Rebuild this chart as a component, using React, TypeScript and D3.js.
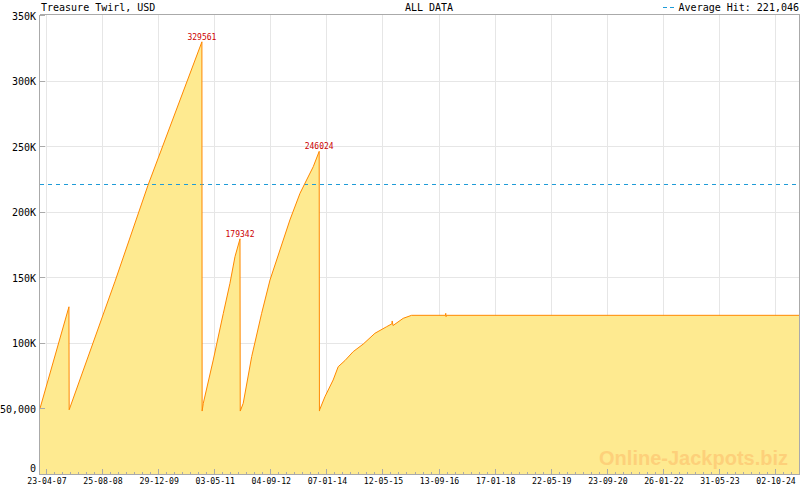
import React from "react";
import * as d3 from "d3";

const title = "Treasure Twirl, USD";
const subtitle = "ALL DATA";
const averageHit = 221046;
const averageLabel = "Average Hit: 221,046";
const watermark = "Online-Jackpots.biz";

const xDomain = ["2007-03-02", "2025-05-08"];
const yDomain = [0, 350000];

const dates = [
  "2007-03-02", "2007-11-10", "2007-11-12", "2008-12-17", "2009-09-30", "2011-01-15",
  "2011-01-17", "2011-01-27", "2011-04-24", "2011-07-21", "2011-09-17", "2011-10-31", "2011-12-14",
  "2011-12-16", "2012-01-11", "2012-03-25", "2012-06-20", "2012-09-01", "2012-11-27", "2013-02-22",
  "2013-05-21", "2013-07-18", "2013-09-14", "2013-11-05",
  "2013-11-07", "2013-11-09", "2013-12-25", "2014-03-07", "2014-04-20", "2014-06-18", "2014-08-29",
  "2014-11-25", "2015-03-07", "2015-06-17", "2015-08-02", "2015-08-05", "2015-08-12", "2015-11-09",
  "2016-01-21", "2016-11-12", "2016-11-15", "2016-11-18", "2016-11-21", "2025-05-08",
];
const values = [
  50000, 127500, 49000, 147000, 220000, 329561,
  48000, 53900, 86900, 122500, 145400, 165700, 179342,
  48000, 53900, 89500, 122500, 147900, 170800, 193700,
  214000, 224200, 234300, 246024,
  48000, 49000, 58900, 71700, 81800, 86500, 93300,
  99100, 107300, 112300, 114500, 116700, 113200, 118700,
  121000, 121000, 122500, 120000, 121000, 121000,
];
const peakValues = [329561, 179342, 246024];

const xTickLabels = [
  "23-04-07", "25-08-08", "29-12-09", "03-05-11", "04-09-12", "07-01-14", "12-05-15",
  "13-09-16", "17-01-18", "22-05-19", "23-09-20", "26-01-22", "31-05-23", "02-10-24",
];
const yTickValues = [0, 50000, 100000, 150000, 200000, 250000, 300000, 350000];
const yTickLabels = ["0", "50,000", "100K", "150K", "200K", "250K", "300K", "350K"];

const MONO = "'DejaVu Sans Mono', monospace";

export default function App() {
  const W = 800;
  const H = 490;
  const left = 40;
  const right = 800;
  const top = 15;
  const bottom = 474;

  const parse = d3.timeParse("%Y-%m-%d");
  const parseTick = d3.timeParse("%d-%m-%y");
  const x = d3.scaleTime().domain(xDomain.map((d) => parse(d) as Date)).range([left, right]);
  const y = d3.scaleLinear().domain(yDomain).range([bottom, top]);

  const data = dates.map((d, i) => ({ date: parse(d) as Date, value: values[i] }));

  const area = d3
    .area<{ date: Date; value: number }>()
    .x((d) => x(d.date))
    .y0(y(0))
    .y1((d) => y(d.value));
  const line = d3
    .line<{ date: Date; value: number }>()
    .x((d) => x(d.date))
    .y((d) => y(d.value));

  const majorX = xTickLabels.map((l) => x(parseTick(l) as Date));
  const step = (majorX[1] - majorX[0]) / 7;
  const minorX: number[] = [];
  for (let p = majorX[0] - step; p >= left; p -= step) minorX.push(p);
  for (let i = 0; i < majorX.length; i++) {
    for (let k = 1; k < 7; k++) {
      const p = majorX[i] + step * k;
      if (p <= right) minorX.push(p);
    }
  }

  const peaks = peakValues.map((v) => data.find((d) => d.value === v)!);

  const sx = (v: number) => Math.round(v) + 0.5;

  return (
    <svg
      width={W}
      height={H}
      style={{ position: "absolute", left: 0, top: 0, background: "#fff" }}
      shapeRendering="crispEdges"
    >
      <rect x={0} y={0} width={W} height={H} fill="#fff" />
      {/* grid */}
      {yTickValues.slice(1, -1).map((v) => (
        <line key={"gy" + v} x1={left} x2={right} y1={sx(y(v))} y2={sx(y(v))} stroke="#e6e6e6" />
      ))}
      {majorX.map((p, i) => (
        <line key={"gx" + i} x1={sx(p)} x2={sx(p)} y1={top} y2={bottom} stroke="#e6e6e6" />
      ))}
      {/* area */}
      <path d={area(data) || ""} fill="#feea90" shapeRendering="auto" />
      {/* average line */}
      <line
        x1={left}
        x2={right}
        y1={sx(y(averageHit))}
        y2={sx(y(averageHit))}
        stroke="#1e9bd7"
        strokeDasharray="4,4"
      />
      <path d={line(data) || ""} fill="none" stroke="#ff8800" strokeWidth={1} shapeRendering="auto" />
      {/* peak labels */}
      {peaks.map((p, i) => (
        <text
          key={"pk" + i}
          x={x(p.date)}
          y={y(p.value) - 2}
          fontFamily={MONO}
          fontSize={8}
          fill="#cc0000"
          textAnchor="middle"
        >
          {peakValues[i]}
        </text>
      ))}
      {/* watermark */}
      <text
        x={788}
        y={465}
        textAnchor="end"
        fontFamily="'Liberation Sans', Arial, sans-serif"
        fontWeight="bold"
        fontSize={20}
        fill="#fdd07a"
      >
        {watermark}
      </text>
      {/* axes frame */}
      <line x1={left - 0.5} x2={left - 0.5} y1={top} y2={bottom + 1} stroke="#aaaaaa" />
      <line x1={right - 0.5} x2={right - 0.5} y1={top} y2={bottom + 1} stroke="#aaaaaa" />
      <line x1={left} x2={right} y1={top - 0.5} y2={top - 0.5} stroke="#aaaaaa" />
      <line x1={left} x2={right} y1={bottom + 0.5} y2={bottom + 0.5} stroke="#aaaaaa" />
      {/* y ticks */}
      {yTickValues.map((v, i) => (
        <g key={"yt" + v}>
          <line x1={left} x2={left + 5} y1={sx(y(v))} y2={sx(y(v))} stroke="#aaaaaa" />
          <text
            x={36}
            y={Math.min(y(v) + 4.5, bottom - 2)}
            textAnchor="end"
            fontFamily={MONO}
            fontSize={10}
            fill="#000"
          >
            {yTickLabels[i]}
          </text>
        </g>
      ))}
      {/* x ticks */}
      {minorX.map((p, i) => (
        <line key={"mx" + i} x1={sx(p)} x2={sx(p)} y1={bottom - 2} y2={bottom} stroke="#aaaaaa" />
      ))}
      {majorX.map((p, i) => (
        <g key={"xt" + i}>
          <line x1={sx(p)} x2={sx(p)} y1={bottom - 5} y2={bottom} stroke="#aaaaaa" />
          <text x={p + 1} y={484} textAnchor="middle" fontFamily={MONO} fontSize={8.2} fill="#000">
            {xTickLabels[i]}
          </text>
        </g>
      ))}
      {/* header */}
      <text x={41} y={11} fontFamily={MONO} fontSize={10} fill="#000">
        {title}
      </text>
      <text x={429} y={11} textAnchor="middle" fontFamily={MONO} fontSize={10} fill="#000">
        {subtitle}
      </text>
      <line x1={663} x2={677} y1={7.5} y2={7.5} stroke="#1e9bd7" strokeDasharray="4,3" />
      <text x={799} y={11} textAnchor="end" fontFamily={MONO} fontSize={10} fill="#000">
        {averageLabel}
      </text>
    </svg>
  );
}
